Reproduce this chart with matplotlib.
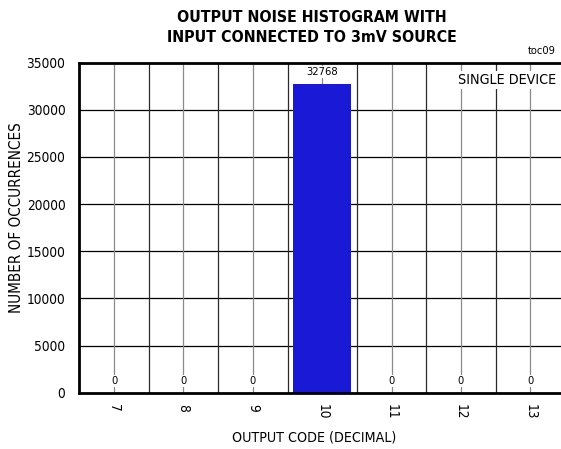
import matplotlib
matplotlib.use("Agg")
import matplotlib.pyplot as plt
import numpy as np

plt.rcParams["font.family"] = "DejaVu Sans"
plt.rcParams["font.stretch"] = "condensed"

codes = [7, 8, 9, 10, 11, 12, 13]
counts = [0, 0, 0, 32768, 0, 0, 0]
y_ticks = [0, 5000, 10000, 15000, 20000, 25000, 30000, 35000]

W, H = 561, 449
fig = plt.figure(figsize=(W / 100, H / 100), dpi=100)
ax = fig.add_axes([79.3 / W, 1 - 392.7 / H, 1 - 79.3 / W, 330 / H])

# horizontal grid at every y tick, gray lines on the codes, dark lines between them
for y in y_ticks[1:-1]:
    ax.axhline(y, color="black", linewidth=0.9, zorder=1)
for x in np.arange(7.5, 14.0, 1.0):
    ax.axvline(x, color="#2a2a2a", linewidth=0.9, zorder=1)
for x in codes:
    ax.axvline(x, color="#8a8a8a", linewidth=0.9, zorder=1)

ax.bar(codes, counts, width=0.84, color="#1919d6", zorder=2)

box = dict(facecolor="white", edgecolor="none", pad=0.8)
for c, n in zip(codes, counts):
    ax.text(c, n + 1250, str(n), ha="center", va="center", fontsize=8, bbox=box, zorder=3)

ax.set_xlim(6.5, 6.5 + (W - 79.3) / 69.4)
ax.set_ylim(0, 35000)
ax.set_xticks(codes)
ax.set_xticklabels([str(c) for c in codes], rotation=270)
ax.set_yticks(y_ticks)
ax.set_yticklabels([str(v) for v in y_ticks])
ax.tick_params(axis="y", length=0, pad=10, labelsize=9.8)
ax.tick_params(axis="x", length=0, pad=8, labelsize=9.8)

for s in ["top", "left", "bottom"]:
    ax.spines[s].set_linewidth(2)
ax.spines["right"].set_visible(False)

fig.text(314.5 / W, 1 - 437.7 / H, "OUTPUT CODE (DECIMAL)", ha="center", va="center", fontsize=10.2)
fig.text(16.7 / W, 1 - 218 / H, "NUMBER OF OCCURRENCES", ha="center", va="center",
         rotation=90, fontsize=10.9)

ax.text(507 / W, 1 - 80 / H, "SINGLE DEVICE", transform=fig.transFigure, ha="center",
        va="center", fontsize=10.3, bbox=dict(facecolor="white", edgecolor="none", pad=1.5), zorder=3)

fig.text(312 / W, 1 - 27.5 / H, "OUTPUT NOISE HISTOGRAM WITH\nINPUT CONNECTED TO 3mV SOURCE",
         ha="center", va="center", fontsize=11.4, fontweight="bold", linespacing=1.4)
fig.text(541.5 / W, 1 - 51 / H, "toc09", ha="center", va="center", fontsize=8)

fig.savefig("out.png", dpi=100)
